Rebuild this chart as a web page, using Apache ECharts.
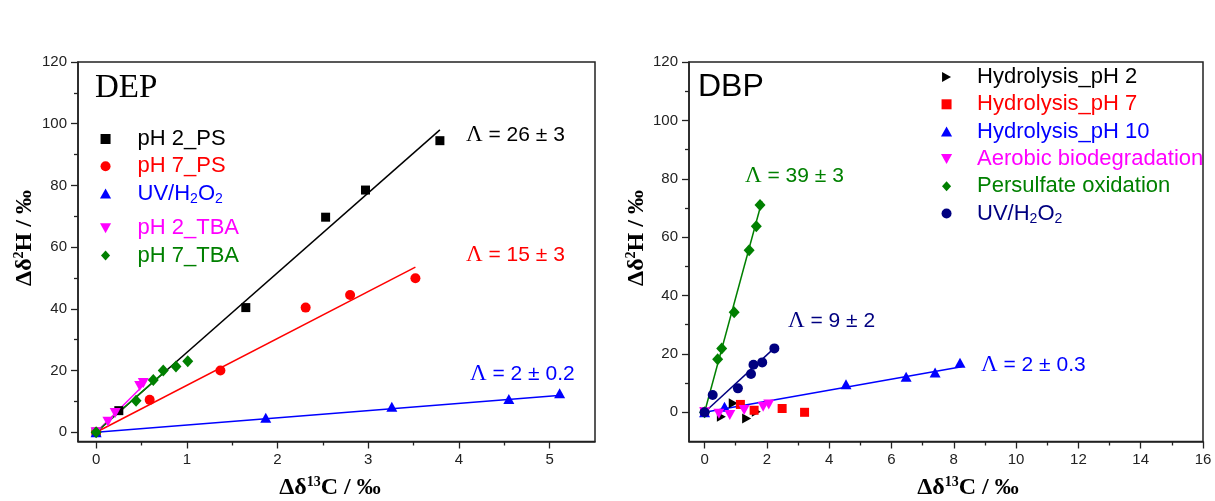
<!DOCTYPE html>
<html>
<head>
<meta charset="utf-8">
<script src="https://cdn.jsdelivr.net/npm/echarts@6/dist/echarts.min.js"></script>
<style>html,body{margin:0;padding:0;background:#fff}#c{width:1215px;height:501px}</style>
</head>
<body>
<div id="c"></div>
<script>
// ---------- DEP (left panel) ----------
const dep_ph2ps_x = [0, 0.25, 1.65, 2.53, 2.97, 3.79];
const dep_ph2ps_y = [0, 7.0, 40.4, 69.7, 78.5, 94.5];
const dep_ph7ps_x = [0, 0.59, 1.37, 2.31, 2.80, 3.52];
const dep_ph7ps_y = [0, 10.5, 20.0, 40.4, 44.5, 49.9];
const dep_uv_x = [0, 1.87, 3.26, 4.55, 5.11];
const dep_uv_y = [0, 4.7, 8.3, 10.8, 12.6];
const dep_ph2tba_x = [0, 0.13, 0.21, 0.48, 0.52];
const dep_ph2tba_y = [0, 3.4, 6.2, 15.0, 16.0];
const dep_ph7tba_x = [0, 0.44, 0.63, 0.74, 0.88, 1.01];
const dep_ph7tba_y = [0, 10.2, 16.9, 20.0, 21.3, 23.0];
// fitted lines (end points)
const dep_fit_ph2ps = [[0, 0], [3.79, 98.0]];
const dep_fit_ph7ps = [[0, 0], [3.52, 53.5]];
const dep_fit_uv = [[0, 0], [5.13, 12.0]];
const dep_fit_ph2tba = [[0, 0], [0.53, 15.5]];
const dep_fit_ph7tba = [[0, 0], [0.75, 19.5]];
const dep_x_ticks = [0, 1, 2, 3, 4, 5];
const dep_x_minor = [0.5, 1.5, 2.5, 3.5, 4.5];
const dep_y_ticks = [0, 20, 40, 60, 80, 100, 120];
const dep_y_minor = [10, 30, 50, 70, 90, 110];

// ---------- DBP (right panel) ----------
const dbp_h2_x = [0, 0.54, 0.92, 1.35, 1.66];
const dbp_h2_y = [0, -1.5, 3.1, -2.1, 0.2];
const dbp_h7_x = [0, 1.15, 1.59, 2.49, 3.21];
const dbp_h7_y = [0, 2.7, 0.7, 1.3, 0.0];
const dbp_h10_x = [0, 0.64, 4.54, 6.47, 7.40, 8.20];
const dbp_h10_y = [0, 1.9, 9.6, 12.2, 13.6, 17.0];
const dbp_aer_x = [0, 0.46, 0.81, 1.27, 1.88, 2.06];
const dbp_aer_y = [0, -0.5, -0.9, 0.8, 1.9, 2.7];
const dbp_ps_x = [0, 0.42, 0.55, 0.95, 1.43, 1.66, 1.78];
const dbp_ps_y = [0, 18.2, 21.9, 34.3, 55.5, 63.7, 71.0];
const dbp_uv_x = [0, 0.26, 1.07, 1.49, 1.57, 1.85, 2.24];
const dbp_uv_y = [0, 5.9, 8.2, 13.1, 16.3, 17.1, 21.9];
const dbp_fit_ps = [[0, 0], [1.84, 72.3]];
const dbp_fit_uv = [[0, 0], [2.28, 22.4]];
const dbp_fit_h10 = [[0, 0], [8.25, 15.6]];
const dbp_x_ticks = [0, 2, 4, 6, 8, 10, 12, 14, 16];
const dbp_x_minor = [1, 3, 5, 7, 9, 11, 13, 15];
const dbp_y_ticks = [0, 20, 40, 60, 80, 100, 120];
const dbp_y_minor = [10, 30, 50, 70, 90, 110];

// ---------- styling ----------
const AX = '#222';
const SANS = 'Liberation Sans';
const SERIF = 'Liberation Serif';
const C = { black: '#000000', red: '#ff0000', blue: '#0000ff', magenta: '#ff00ff', green: '#008000', navy: '#000080' };
const SYM = {
  square: 'path://M0,0L10,0L10,10L0,10Z',
  circle: 'path://M5,0A5,5,0,1,1,5,10A5,5,0,1,1,5,0Z',
  up: 'path://M5,0L10,9L0,9Z',
  down: 'path://M0,0L10,0L5,9Z',
  right: 'path://M0,0L9,5L0,10Z',
  diamond: 'path://M5,0L10,5.5L5,11L0,5.5Z'
};

function pts(xs, ys) { return xs.map((x, i) => [x, ys[i]]); }

function mainAxis(gridIndex, min, max, ticks, pos) {
  return {
    type: 'value', gridIndex, min, max, position: pos,
    axisLine: { show: true, onZero: false, lineStyle: { color: AX, width: 1.5 } },
    axisTick: { show: true, length: 7, customValues: ticks, lineStyle: { color: AX, width: 1.3 } },
    axisLabel: { show: true, customValues: ticks, margin: 11, fontSize: 15, color: '#222', fontFamily: SANS },
    splitLine: { show: false }
  };
}
function minorAxis(gridIndex, min, max, ticks, pos) {
  return {
    type: 'value', gridIndex, min, max, position: pos,
    axisLine: { show: false, onZero: false },
    axisTick: { show: true, length: 4, customValues: ticks, lineStyle: { color: AX, width: 1.3 } },
    axisLabel: { show: false },
    splitLine: { show: false }
  };
}
function scat(name, xs, ys, sym, size, color, xi) {
  return { type: 'scatter', name, data: pts(xs, ys), symbol: sym, symbolSize: size,
    itemStyle: { color, opacity: 1 }, xAxisIndex: xi, yAxisIndex: xi, z: 3, silent: true };
}
function fit(data, color, xi) {
  return { type: 'line', data, showSymbol: false, symbol: 'none', lineStyle: { color, width: 1.5 },
    xAxisIndex: xi, yAxisIndex: xi, z: 2, silent: true };
}

const LABELS = {
  'pH 2_PS': 'pH 2_PS', 'pH 7_PS': 'pH 7_PS', 'DEP UV/H2O2': '{n|UV/H}{s|2}{n|O}{s|2}',
  'pH 2_TBA': 'pH 2_TBA', 'pH 7_TBA': 'pH 7_TBA',
  'Hydrolysis_pH 2': 'Hydrolysis_pH 2', 'Hydrolysis_pH 7': 'Hydrolysis_pH 7',
  'Hydrolysis_pH 10': 'Hydrolysis_pH 10', 'Aerobic biodegradation': 'Aerobic biodegradation',
  'Persulfate oxidation': 'Persulfate oxidation', 'DBP UV/H2O2': '{n|UV/H}{s|2}{n|O}{s|2}'
};
const legRich = { n: { fontSize: 22, fontFamily: SANS }, s: { fontSize: 14, fontFamily: SANS, padding: [12, 0, 0, 0] } };
function legend(left, top, itemWidth, items) {
  return {
    orient: 'vertical', left, top, padding: 0, itemWidth, itemHeight: 10, itemGap: 5.3,
    selectedMode: false, symbolKeepAspect: true,
    textStyle: { fontSize: 22, fontFamily: SANS, rich: legRich },
    formatter: name => LABELS[name],
    data: items.map(it => ({ name: it[0], icon: it[1], textStyle: { color: it[2] } }))
  };
}

const lamRich = { l: { fontFamily: SERIF, fontSize: 23 }, t: { fontFamily: SANS, fontSize: 21 } };
function lam(x, y, txt, color) {
  return { type: 'text', x, y, silent: true,
    style: { text: '{l|Λ}{t| = ' + txt + '}', rich: lamRich, fill: color, align: 'left', verticalAlign: 'middle' } };
}
const titleRich = {
  a: { fontFamily: SERIF, fontWeight: 'bold', fontSize: 24 },
  s: { fontFamily: SERIF, fontWeight: 'bold', fontSize: 14, padding: [0, 0, 12, 0] }
};
function axTitle(x, y, txt, rot) {
  return { type: 'text', x, y, rotation: rot, silent: true,
    style: { text: txt, rich: titleRich, fill: '#000', align: 'center', verticalAlign: 'middle' } };
}

const option = {
  animation: false,
  backgroundColor: '#ffffff',
  grid: [
    { left: 78, top: 62, width: 517, height: 379.5, show: true, borderColor: AX, borderWidth: 1.5, containLabel: false },
    { left: 689, top: 62, width: 514, height: 379.5, show: true, borderColor: AX, borderWidth: 1.5, containLabel: false }
  ],
  xAxis: [
    mainAxis(0, -0.2, 5.5, dep_x_ticks, 'bottom'),
    minorAxis(0, -0.2, 5.5, dep_x_minor, 'bottom'),
    mainAxis(1, -0.5, 16, dbp_x_ticks, 'bottom'),
    minorAxis(1, -0.5, 16, dbp_x_minor, 'bottom')
  ],
  yAxis: [
    mainAxis(0, -3, 120, dep_y_ticks, 'left'),
    minorAxis(0, -3, 120, dep_y_minor, 'left'),
    mainAxis(1, -10, 120, dbp_y_ticks, 'left'),
    minorAxis(1, -10, 120, dbp_y_minor, 'left')
  ],
  legend: [
    legend(100, 128, 54, [['pH 2_PS', SYM.square, C.black], ['pH 7_PS', SYM.circle, C.red], ['DEP UV/H2O2', SYM.up, C.blue]]),
    legend(100, 217.3, 54, [['pH 2_TBA', SYM.down, C.magenta], ['pH 7_TBA', SYM.diamond, C.green]]),
    legend(941, 66, 51, [['Hydrolysis_pH 2', SYM.right, C.black], ['Hydrolysis_pH 7', SYM.square, C.red],
      ['Hydrolysis_pH 10', SYM.up, C.blue], ['Aerobic biodegradation', SYM.down, C.magenta],
      ['Persulfate oxidation', SYM.diamond, C.green], ['DBP UV/H2O2', SYM.circle, C.navy]])
  ],
  series: [
    fit(dep_fit_ph2ps, C.black, 0),
    fit(dep_fit_ph7ps, C.red, 0),
    fit(dep_fit_uv, C.blue, 0),
    fit(dep_fit_ph2tba, C.magenta, 0),
    fit(dep_fit_ph7tba, C.green, 0),
    scat('pH 2_PS', dep_ph2ps_x, dep_ph2ps_y, SYM.square, [9, 9], C.black, 0),
    scat('pH 7_PS', dep_ph7ps_x, dep_ph7ps_y, SYM.circle, [10, 10], C.red, 0),
    scat('DEP UV/H2O2', dep_uv_x, dep_uv_y, SYM.up, [11, 10], C.blue, 0),
    scat('pH 2_TBA', dep_ph2tba_x, dep_ph2tba_y, SYM.down, [11, 10], C.magenta, 0),
    scat('pH 7_TBA', dep_ph7tba_x, dep_ph7tba_y, SYM.diamond, [11, 12], C.green, 0),

    fit(dbp_fit_ps, C.green, 2),
    fit(dbp_fit_uv, C.navy, 2),
    fit(dbp_fit_h10, C.blue, 2),
    scat('Hydrolysis_pH 2', dbp_h2_x, dbp_h2_y, SYM.right, [9, 10], C.black, 2),
    scat('Hydrolysis_pH 7', dbp_h7_x, dbp_h7_y, SYM.square, [9, 9], C.red, 2),
    scat('Hydrolysis_pH 10', dbp_h10_x, dbp_h10_y, SYM.up, [11, 10], C.blue, 2),
    scat('Aerobic biodegradation', dbp_aer_x, dbp_aer_y, SYM.down, [11, 10], C.magenta, 2),
    scat('Persulfate oxidation', dbp_ps_x, dbp_ps_y, SYM.diamond, [11, 12], C.green, 2),
    scat('DBP UV/H2O2', dbp_uv_x, dbp_uv_y, SYM.circle, [10, 10], C.navy, 2)
  ],
  graphic: [
    { type: 'text', x: 95, y: 88, silent: true, style: { text: 'DEP', fontFamily: SERIF, fontSize: 33, fill: '#000', align: 'left', verticalAlign: 'middle' } },
    { type: 'text', x: 698, y: 87, silent: true, style: { text: 'DBP', fontFamily: SANS, fontSize: 32, fill: '#000', align: 'left', verticalAlign: 'middle' } },
    lam(466, 135, '26 ± 3', C.black),
    lam(466, 255, '15 ± 3', C.red),
    lam(470, 374, '2 ± 0.2', C.blue),
    lam(745, 176, '39 ± 3', C.green),
    lam(788, 321, '9 ± 2', C.navy),
    lam(981, 365, '2 ± 0.3', C.blue),
    axTitle(25, 238, '{a|Δδ}{s|2}{a|H / ‰}', Math.PI / 2),
    axTitle(637, 238, '{a|Δδ}{s|2}{a|H / ‰}', Math.PI / 2),
    axTitle(330, 488, '{a|Δδ}{s|13}{a|C / ‰}', 0),
    axTitle(968, 488, '{a|Δδ}{s|13}{a|C / ‰}', 0)
  ]
};

const chart = echarts.init(document.getElementById('c'), null, { renderer: 'canvas' });
chart.setOption(option);
</script>
</body>
</html>
